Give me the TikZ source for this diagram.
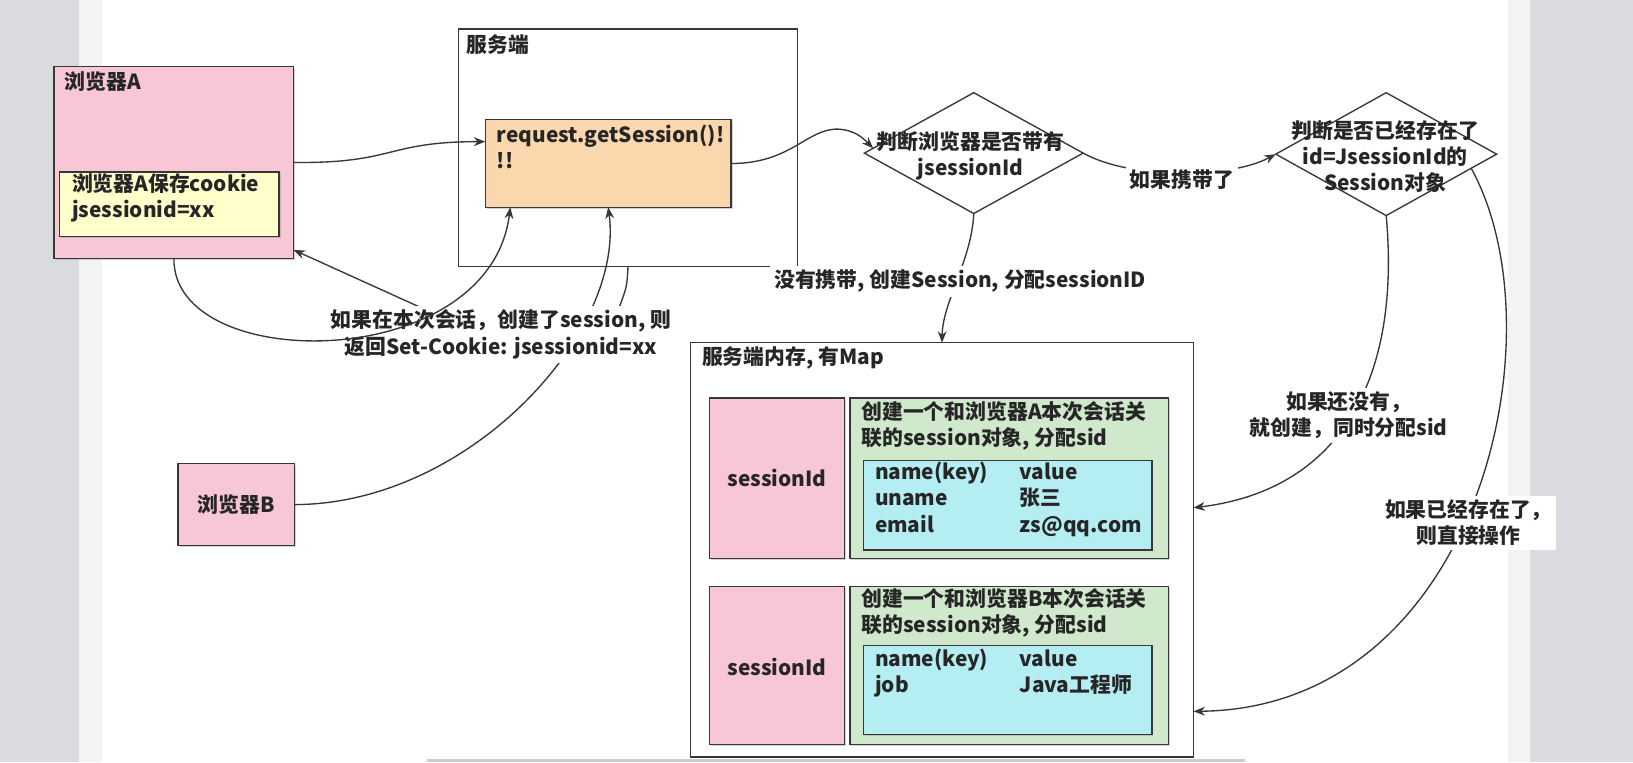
\documentclass[tikz,border=0pt]{standalone}
\usepackage{fontspec}
\setmainfont{Noto Sans CJK SC}
\usetikzlibrary{shapes.geometric,arrows.meta,calc,shadows}
\definecolor{bggrey}{RGB}{217,219,223}
\definecolor{bglight}{RGB}{243,243,243}
\definecolor{bottomc}{RGB}{205,205,205}
\definecolor{pinkc}{RGB}{248,199,214}
\definecolor{yellowc}{RGB}{255,255,204}
\definecolor{orangec}{RGB}{250,215,172}
\definecolor{greenc}{RGB}{208,233,204}
\definecolor{cyanc}{RGB}{180,237,242}
\definecolor{linec}{RGB}{55,55,55}
\definecolor{textc}{RGB}{38,38,38}
\tikzset{
  box/.style={draw=linec, line width=1.3pt, anchor=north west, inner sep=0pt, outer sep=0pt},
  shbox/.style={box, drop shadow={shadow xshift=1.5pt, shadow yshift=-1.5pt, opacity=0.35}},
  dia/.style={diamond, draw=linec, line width=1.3pt, fill=white, inner sep=0pt, outer sep=0pt},
  txt/.style={font=\bfseries\fontsize{20}{25}\selectfont, text=textc, inner sep=0pt, align=left},
  ctxt/.style={txt, align=center},
  lbl/.style={txt, align=center, fill=white, inner sep=4pt},
  conn/.style={draw=linec, line width=1.3pt},
  arr/.style={conn, -{Stealth[length=11pt,width=8.5pt]}},
}
\begin{document}
\begin{tikzpicture}[x=1pt,y=-1pt]
\useasboundingbox (0,0) rectangle (1568,732);
% page background
\fill[bggrey] (0,0) rectangle (76,732);
\fill[bglight] (76,0) rectangle (98,732);
\fill[white] (98,0) rectangle (1448,732);
\fill[bglight] (1448,0) rectangle (1469,732);
\fill[bggrey] (1469,0) rectangle (1568,732);
\fill[bottomc] (410,729) rectangle (1195,732);

% boxes
\node[shbox, fill=pinkc, minimum width=230pt, minimum height=184pt] (bA) at (52,64) {};
\node[shbox, fill=yellowc, minimum width=211pt, minimum height=62pt] (bAc) at (57,165) {};
\node[box, fill=white, minimum width=326pt, minimum height=228pt] (srv) at (440,28) {};
\node[shbox, fill=orangec, minimum width=236pt, minimum height=84pt] (og) at (466,115) {};
\node[dia, minimum width=210pt, minimum height=116pt] (d1) at (935,147) {};
\node[dia, minimum width=212pt, minimum height=118pt] (d2) at (1331,148) {};
\node[box, fill=white, minimum width=483pt, minimum height=398pt] (mem) at (663,329) {};
\node[shbox, fill=pinkc, minimum width=130pt, minimum height=154pt] (pA) at (681,382) {};
\node[shbox, fill=greenc, minimum width=306pt, minimum height=154pt] (gA) at (816,382) {};
\node[shbox, fill=cyanc, minimum width=277pt, minimum height=86pt] (cA) at (829,442) {};
\node[shbox, fill=pinkc, minimum width=130pt, minimum height=152pt] (pB) at (681,563) {};
\node[shbox, fill=greenc, minimum width=306pt, minimum height=152pt] (gB) at (816,563) {};
\node[shbox, fill=cyanc, minimum width=277pt, minimum height=85pt] (cB) at (829,620) {};
\node[shbox, fill=pinkc, minimum width=112pt, minimum height=79pt] (bB) at (171,445) {};

% connectors
\draw[arr] (bA.east) .. controls (380,157) and (370,136) .. ([yshift=21pt]og.west);
\draw[arr] (og.east) .. controls (760,157) and (775,123) .. (805,124) .. controls (822,125) and (830,134) .. ($(d1.west)!0.08!(d1.north)$);
\draw[arr] (d1.east) .. controls (1085,172) and (1180,172) .. (d2.west);
\draw[arr] (d1.south) .. controls (933,250) and (905,290) .. (mem.north);
\draw[arr] (d2.south) .. controls (1345,360) and (1290,470) .. ([yshift=40.5pt]mem.east);
\draw[arr] ($(d2.east)!0.23!(d2.south)$) .. controls (1500,320) and (1420,680) .. ([yshift=-155pt]mem.east);
\coordinate (sc1) at (595,294);
\coordinate (sc2) at (410,298);
\draw[conn] (srv.south) .. controls (602,275) .. (sc1);
\draw[arr] (sc2) -- ([yshift=8pt]bA.south east);
\draw[arr] (bB.east) .. controls (450,484) and (600,320) .. (og.south);

% edge labels
\node[lbl] (l3) at (1135,172) {如果携带了};
\node[lbl] (l4) at (922,270) {没有携带, 创建Session, 分配sessionID};
\node[lbl] (l5) at (1295,399) {如果还没有，\\就创建，同时分配sid};
\node[lbl] (l6) at (1410,502) {如果已经存在了，\\则直接操作};
\node[lbl] (l8) at (481,321) {如果在本次会话，创建了session, 则\\返回Set-Cookie: jsessionid=xx};

\draw[arr] (bA.south) .. controls (165,360) and (470,360) .. ([xshift=-94pt]og.south);

% texts
\node[txt, anchor=west] (bAt) at (62,78.5) {浏览器A};
\node[txt, anchor=west] (bAct) at (69,190) {浏览器A保存cookie\\jsessionid=xx};
\node[txt, anchor=west] (srvt) at (448,43) {服务端};
\node[txt, anchor=west] (ogt) at (477,141) {request.getSession()!\\!!};
\node[ctxt] (d1t) at (932,150) {判断浏览器是否带有\\jsessionId};
\node[ctxt] (d2t) at (1330,150) {判断是否已经存在了\\id=JsessionId的\\Session对象};
\node[txt, anchor=west] (memt) at (674,344) {服务端内存, 有Map};
\node[ctxt] (pAt) at (746,459) {sessionId};
\node[txt, anchor=west] (gAt) at (827,409) {创建一个和浏览器A本次会话关\\联的session对象, 分配sid};
\node[txt, anchor=west] (cAt) at (840,479.5) {\makebox[139pt][l]{name(key)}value\\\makebox[139pt][l]{uname}张三\\\makebox[139pt][l]{email}zs@qq.com};
\node[ctxt] (pBt) at (746,640) {sessionId};
\node[txt, anchor=west] (gBt) at (827,588.5) {创建一个和浏览器B本次会话关\\联的session对象, 分配sid};
\node[txt, anchor=west] (cBt) at (840,646) {\makebox[139pt][l]{name(key)}value\\\makebox[139pt][l]{job}Java工程师};
\node[ctxt] (bBt) at (bB.center) {浏览器B};
\end{tikzpicture}
\end{document}
